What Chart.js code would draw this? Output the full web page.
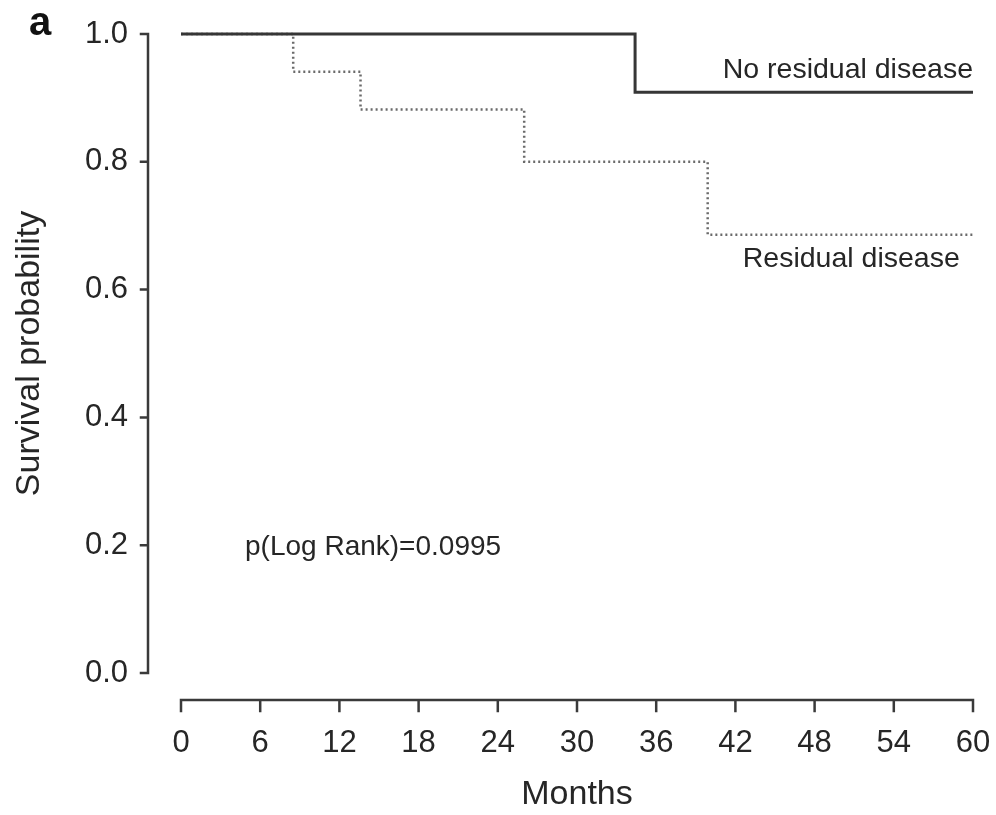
<!DOCTYPE html>
<html>
<head>
<meta charset="utf-8">
<title>Survival probability by residual disease</title>
<script src="https://cdn.jsdelivr.net/npm/chart.js@4.4.1/dist/chart.umd.min.js"></script>
<style>
  html, body { margin: 0; padding: 0; background: #fff; }
  #wrap { width: 996px; height: 815px; }
</style>
</head>
<body>
<div id="wrap"><canvas id="kmChart" width="996" height="815"></canvas></div>
<script>
// Kaplan-Meier steps (months, survival probability)
const noResidualMonths = [0, 34.4, 60];
const noResidualSurvival = [1.0, 0.909, 0.909];
const residualMonths = [0, 8.5, 13.6, 26.0, 39.9, 60];
const residualSurvival = [1.0, 0.941, 0.882, 0.800, 0.686, 0.686];

const monthTicks = [0, 6, 12, 18, 24, 30, 36, 42, 48, 54, 60];
const survivalTicks = [0, 0.2, 0.4, 0.6, 0.8, 1.0];

const FONT = "'Liberation Sans', Arial, Helvetica, sans-serif";
const INK = '#262626';

function toPoints(xs, ys) {
    return xs.map((x, i) => ({ x: x, y: ys[i] }));
}

// Prism-style detached axes, drawn from the scales
const detachedAxes = {
    id: 'detachedAxes',
    afterDraw(chart) {
        const { ctx, chartArea, scales } = chart;
        const xs = scales.x, ys = scales.y;
        const axisX = chartArea.left - 33;
        const axisY = chartArea.bottom + 27;
        ctx.save();
        ctx.strokeStyle = '#3a3a3a';
        ctx.lineWidth = 2.5;
        ctx.lineCap = 'square';

        // y axis
        ctx.beginPath();
        ctx.moveTo(axisX, ys.getPixelForValue(0));
        ctx.lineTo(axisX, ys.getPixelForValue(1));
        survivalTicks.forEach(v => {
            const py = ys.getPixelForValue(v);
            ctx.moveTo(axisX - 7, py);
            ctx.lineTo(axisX, py);
        });
        ctx.stroke();

        // x axis
        ctx.beginPath();
        ctx.moveTo(xs.getPixelForValue(0), axisY);
        ctx.lineTo(xs.getPixelForValue(60), axisY);
        monthTicks.forEach(v => {
            const px = xs.getPixelForValue(v);
            ctx.moveTo(px, axisY);
            ctx.lineTo(px, axisY + 11);
        });
        ctx.stroke();

        // curve labels and test result
        ctx.fillStyle = INK;
        ctx.textBaseline = 'middle';
        ctx.font = '28.5px ' + FONT;
        ctx.textAlign = 'right';
        ctx.fillText('No residual disease', xs.getPixelForValue(60), ys.getPixelForValue(0.944));
        ctx.fillText('Residual disease', xs.getPixelForValue(59.0), ys.getPixelForValue(0.648));
        ctx.font = '28px ' + FONT;
        ctx.textAlign = 'left';
        ctx.fillText('p(Log Rank)=0.0995', xs.getPixelForValue(4.85), ys.getPixelForValue(0.196));

        // panel letter
        ctx.font = 'bold 40px ' + FONT;
        ctx.fillStyle = '#111';
        ctx.textBaseline = 'alphabetic';
        ctx.fillText('a', 29, 35);
        ctx.restore();
    }
};

new Chart(document.getElementById('kmChart'), {
    type: 'line',
    data: {
        datasets: [{
            label: 'No residual disease',
            data: toPoints(noResidualMonths, noResidualSurvival),
            stepped: true,
            borderColor: '#363636',
            borderWidth: 3,
            pointRadius: 0,
            clip: false,
            fill: false
        }, {
            label: 'Residual disease',
            data: toPoints(residualMonths, residualSurvival),
            stepped: true,
            borderColor: '#6a6a6a',
            borderWidth: 2.5,
            borderDash: [2, 3],
            pointRadius: 0,
            clip: false,
            fill: false
        }]
    },
    options: {
        responsive: false,
        animation: false,
        layout: { padding: { left: 0, right: 23, top: 34, bottom: 0 } },
        plugins: {
            legend: { display: false },
            tooltip: { enabled: false }
        },
        scales: {
            x: {
                type: 'linear',
                min: 0,
                max: 60,
                afterBuildTicks: s => { s.ticks = monthTicks.map(v => ({ value: v })); },
                afterFit: s => { s.height = 142; },
                // tickLength only offsets the labels; the marks themselves come from the plugin
                grid: { display: false, drawTicks: true, tickLength: 52 },
                border: { display: false },
                ticks: {
                    padding: 0,
                    maxRotation: 0,
                    autoSkip: false,
                    color: INK,
                    font: { family: FONT, size: 31 }
                },
                title: {
                    display: true,
                    text: 'Months',
                    color: INK,
                    padding: { top: 0, bottom: 0 },
                    font: { family: FONT, size: 34 }
                }
            },
            y: {
                min: 0,
                max: 1,
                afterBuildTicks: s => { s.ticks = survivalTicks.map(v => ({ value: v })); },
                afterFit: s => { s.width = 181; },
                grid: { display: false, drawTicks: true, tickLength: 53 },
                border: { display: false },
                ticks: {
                    padding: 0,
                    color: INK,
                    font: { family: FONT, size: 31 },
                    callback: v => Number(v).toFixed(1)
                },
                title: {
                    display: true,
                    text: 'Survival probability',
                    color: INK,
                    padding: { top: 9, bottom: 0 },
                    font: { family: FONT, size: 34 }
                }
            }
        }
    },
    plugins: [detachedAxes]
});
</script>
</body>
</html>
